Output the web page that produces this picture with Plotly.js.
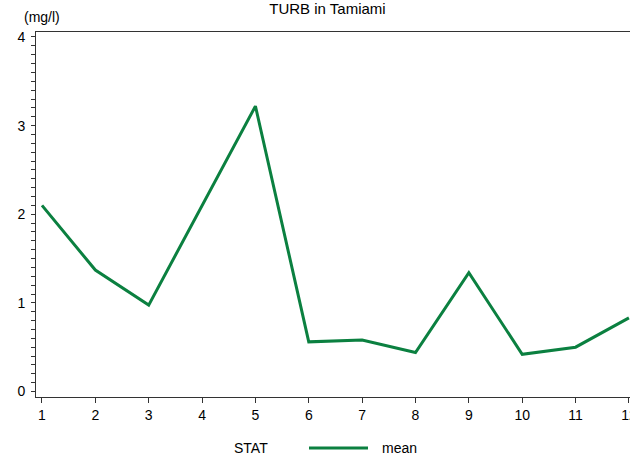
<!DOCTYPE html>
<html>
<head>
<meta charset="utf-8">
<script src="https://cdn.plot.ly/plotly-3.0.1.min.js"></script>
<style>html,body{margin:0;padding:0;background:#fff;}#chart{width:630px;height:458px;}</style>
</head>
<body>
<div id="chart"></div>
<script>
const months = [1, 2, 3, 4, 5, 6, 7, 8, 9, 10, 11, 12];
const meanValues = [2.10, 1.37, 0.975, 2.09, 3.22, 0.56, 0.58, 0.44, 1.34, 0.42, 0.50, 0.83];
const yTickVals = [0, 1, 2, 3, 4];
const seriesName = 'mean';
const legendTitle = 'STAT';
const chartTitle = 'TURB in Tamiami';
const unitLabel = '(mg/l)';

const lineColor = '#0b8040';
const font = {family: 'Liberation Sans, Arial, sans-serif', size: 14, color: '#000'};

Plotly.newPlot('chart', [{
  x: months,
  y: meanValues,
  type: 'scatter',
  mode: 'lines',
  name: seriesName,
  line: {color: lineColor, width: 3}
}], {
  width: 630, height: 458,
  margin: {l: 36, r: 0, t: 32, b: 61},
  paper_bgcolor: '#fff', plot_bgcolor: '#fff',
  font: font,
  showlegend: false,
  title: {text: chartTitle, x: (327.5 - 36) / 594, xref: 'paper', xanchor: 'center', y: 0.982, yref: 'container', yanchor: 'middle', font: {family: font.family, size: 15, color: '#000'}},
  xaxis: {
    range: [0.888, 12.02], tickvals: months, ticktext: months.map(String),
    showgrid: false, zeroline: false, showline: true, linecolor: '#333', linewidth: 1,
    mirror: true, ticks: 'outside', ticklen: 5, tickcolor: '#333', tickfont: font,
    ticklabeloverflow: 'allow'
  },
  yaxis: {
    range: [-0.062, 4.056], tickvals: yTickVals, ticktext: yTickVals.map(String),
    showgrid: false, zeroline: false, showline: true, linecolor: '#333', linewidth: 1,
    ticks: '', tickfont: font, ticklabelstandoff: 7,
    minor: {dtick: 0.1, tick0: 0, ticks: 'outside', ticklen: 4, tickcolor: '#333', showgrid: false}
  },
  shapes: [{
    type: 'line', xref: 'paper', yref: 'paper',
    x0: (309 - 36) / 594, x1: (368 - 36) / 594, y0: -51 / 365, y1: -51 / 365,
    line: {color: lineColor, width: 3}
  }],
  annotations: [{
    text: unitLabel, xref: 'paper', yref: 'paper', x: 0, y: 1, xshift: 6, yshift: 15,
    showarrow: false, xanchor: 'center', yanchor: 'middle', font: font
  }, {
    text: legendTitle, xref: 'paper', yref: 'paper', x: (232 - 36) / 594, y: -51 / 365,
    showarrow: false, xanchor: 'left', yanchor: 'middle', font: font
  }, {
    text: seriesName, xref: 'paper', yref: 'paper', x: (380 - 36) / 594, y: -51 / 365,
    showarrow: false, xanchor: 'left', yanchor: 'middle', font: font
  }]
}, {displayModeBar: false, staticPlot: true});
</script>
</body>
</html>
